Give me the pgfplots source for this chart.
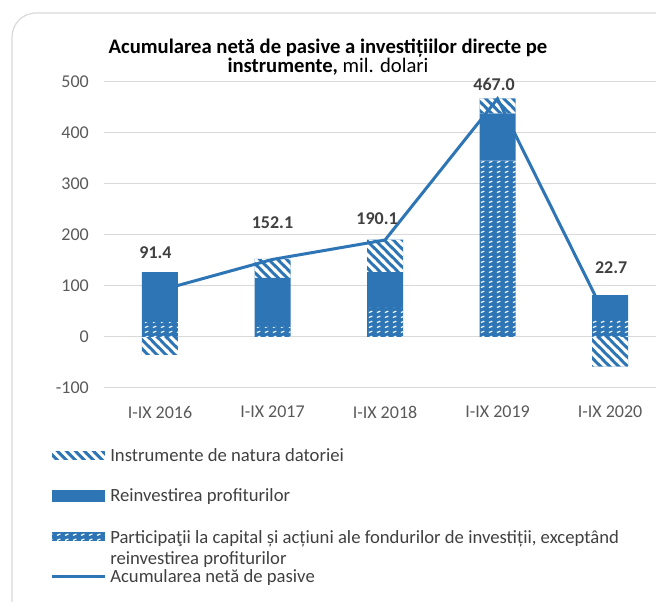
\documentclass[border=0pt]{standalone}
\usepackage{fontspec}
\setmainfont{Carlito}
\usepackage{pgfplots}
\pgfplotsset{compat=1.18}
\usetikzlibrary{patterns}

\definecolor{barblue}{HTML}{2E75B6}
\definecolor{gridgray}{HTML}{D9D9D9}
\definecolor{ticktxt}{HTML}{595959}
\definecolor{lbltxt}{HTML}{404040}

% wide white diagonal stripes (debt instruments)
\pgfdeclarepatternformonly{debtstripes}{\pgfqpoint{0pt}{0pt}}{\pgfqpoint{7pt}{7pt}}{\pgfqpoint{7pt}{7pt}}{
  \pgfsetlinewidth{2.4pt}
  \pgfpathmoveto{\pgfqpoint{-1pt}{8pt}}\pgfpathlineto{\pgfqpoint{8pt}{-1pt}}
  \pgfpathmoveto{\pgfqpoint{-3.5pt}{3.5pt}}\pgfpathlineto{\pgfqpoint{3.5pt}{-3.5pt}}
  \pgfpathmoveto{\pgfqpoint{3.5pt}{10.5pt}}\pgfpathlineto{\pgfqpoint{10.5pt}{3.5pt}}
  \pgfusepath{stroke}}
% small white dashes (equity participations)
\pgfdeclarepatternformonly{equitydash}{\pgfqpoint{0pt}{0pt}}{\pgfqpoint{6pt}{3.8pt}}{\pgfqpoint{6pt}{3.8pt}}{
  \pgfsetlinewidth{1.0pt}
  \pgfpathmoveto{\pgfqpoint{0.8pt}{1.3pt}}\pgfpathlineto{\pgfqpoint{3.6pt}{2.5pt}}
  \pgfusepath{stroke}}

\newcommand{\lblfont}{\fontsize{13.5}{16}\selectfont}
\newcommand{\legfont}{\fontsize{14}{15.75}\selectfont}

\begin{document}
\begin{tikzpicture}
\useasboundingbox (0,0) rectangle (492pt,451.5pt);
\clip (0,0) rectangle (492pt,451.5pt);
\draw[gridgray, line width=0.9pt, rounded corners=18pt] (9pt,441.75pt) rectangle (510pt,-20pt);

% title
\node[align=center, font=\fontsize{15.5}{13}\selectfont] at (246pt,408.75pt)
  {\textbf{Acumularea netă de pasive a investițiilor directe pe}\\\textbf{instrumente,} mil. dolari};

\begin{axis}[
  at={(77.81pt,160.5pt)}, anchor=south west,
  scale only axis, width=421.875pt, height=229.5pt,
  xmin=-0.5, xmax=4.5, ymin=-100, ymax=500,
  ybar stacked, bar width=27pt,
  xtick={0,1,2,3,4},
  xticklabels={I-IX 2016,I-IX 2017,I-IX 2018,I-IX 2019,I-IX 2020},
  ytick={-100,0,100,200,300,400,500},
  axis line style={draw=none}, major tick length=0pt,
  ymajorgrids, grid style={gridgray, line width=0.75pt},
  tick label style={font=\lblfont, text=ticktxt},
  /pgf/number format/assume math mode=true,
  yticklabel style={anchor=east, inner sep=0pt, xshift=-11pt},
  xticklabel style={anchor=center, inner sep=0pt, yshift=-18pt},
]
% Participatii la capital
\addplot[fill=barblue, draw=none, postaction={pattern=equitydash, pattern color=white}]
  coordinates {(0,29) (1,20) (2,57) (3,346) (4,37)};
% Reinvestirea profiturilor
\addplot[fill=barblue, draw=none] coordinates {(0,98) (1,96) (2,70) (3,92) (4,45)};
% Instrumente de natura datoriei (negatives stack down from zero)
\addplot[fill=barblue, draw=none, postaction={pattern=debtstripes, pattern color=white}]
  coordinates {(0,-35) (1,37) (2,64) (3,30) (4,-58)};
\end{axis}

\begin{axis}[
  at={(77.81pt,160.5pt)}, anchor=south west,
  scale only axis, width=421.875pt, height=229.5pt,
  xmin=-0.5, xmax=4.5, ymin=-100, ymax=500,
  hide axis, clip=false,
]
\addplot[barblue, line width=2.25pt, mark=none]
  coordinates {(0,91.4) (1,152.1) (2,190.1) (3,467.0) (4,22.7)};
\addplot[only marks, mark=*, mark size=0pt, nodes near coords, point meta=explicit symbolic,
  every node near coord/.append style={anchor=center, font=\lblfont\bfseries, text=lbltxt}]
  coordinates {(-0.04,165)[91.4] (1,225)[152.1] (1.93,233)[190.1] (2.97,496)[467.0] (4.01,135)[22.7]};
\end{axis}

% legend
\fill[barblue] (39pt,106.5pt) rectangle (78.75pt,113.25pt);
\fill[pattern=debtstripes, pattern color=white] (39pt,106.5pt) rectangle (78.75pt,113.25pt);
\node[anchor=west, inner sep=0pt, font=\legfont, text=lbltxt] at (82.5pt,110.25pt) {Instrumente de natura datoriei};
\fill[barblue] (39pt,75pt) rectangle (78.75pt,84pt);
\node[anchor=west, inner sep=0pt, font=\legfont, text=lbltxt] at (82.5pt,78.75pt) {Reinvestirea profiturilor};
\fill[barblue] (39pt,45.75pt) rectangle (78.75pt,52.5pt);
\fill[pattern=equitydash, pattern color=white] (39pt,45.75pt) rectangle (78.75pt,52.5pt);
\node[anchor=west, inner sep=0pt, align=left, font=\legfont, text=lbltxt] at (82.5pt,40.1pt)
  {Participaţii la capital și acțiuni ale fondurilor de investiții, exceptând\\reinvestirea profiturilor};
\draw[barblue, line width=2.25pt] (39pt,18.75pt) -- (78.75pt,18.75pt);
\node[anchor=west, inner sep=0pt, font=\legfont, text=lbltxt] at (82.5pt,18pt) {Acumularea netă de pasive};
\end{tikzpicture}
\end{document}
